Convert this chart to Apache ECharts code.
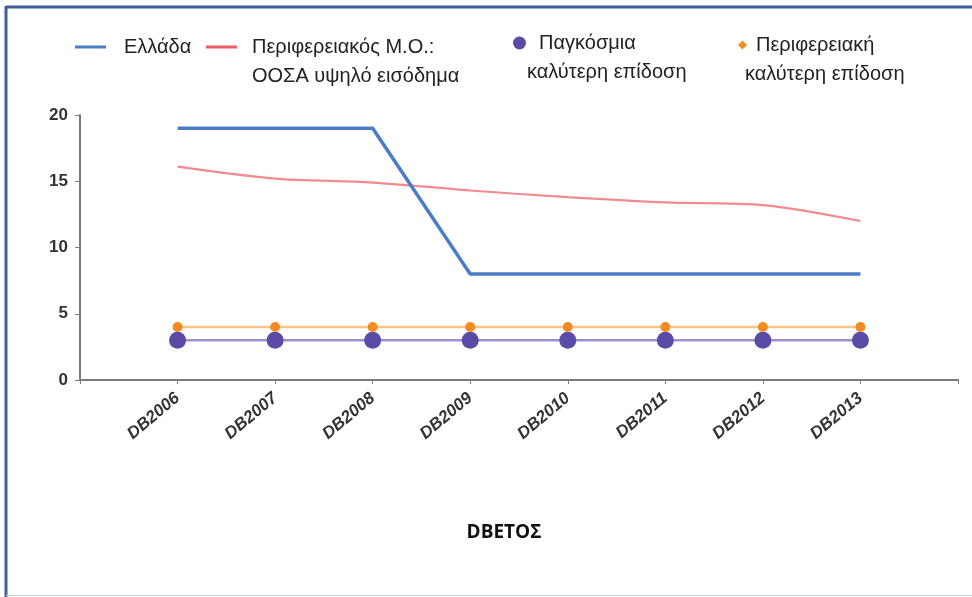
<!DOCTYPE html>
<html><head><meta charset="utf-8">
<script src="https://cdn.jsdelivr.net/npm/echarts@6/dist/echarts.min.js"></script>
<style>html,body{margin:0;padding:0;background:#fff}#c{width:972px;height:597px}</style>
</head><body><div id="c"></div>
<script>
const categories = ['DB2006','DB2007','DB2008','DB2009','DB2010','DB2011','DB2012','DB2013'];
const greece = [19,19,19,8,8,8,8,8];
const oecdAvg = [16.1,15.2,14.9,14.3,13.8,13.4,13.2,12.0];
const globalBest = [3,3,3,3,3,3,3,3];
const regionalBest = [4,4,4,4,4,4,4,4];
const yTicks = [0,5,10,15,20];
const names = ['Ελλάδα','Περιφερειακός Μ.Ο.:\nΟΟΣΑ υψηλό εισόδημα','Παγκόσμια\nκαλύτερη επίδοση','Περιφερειακή\nκαλύτερη επίδοση'];

const pad = arr => [null, ...arr, null];
const axisCats = ['', ...categories, ''];
const FONT = '"Liberation Sans", Arial, sans-serif';
const LFS = 20;

function legend(name, left, top, icon, w, h, firstPad, secondPad) {
  const parts = name.split('\n');
  return {
    data: [{name: name, icon: icon}],
    left: left, top: top, itemWidth: w, itemHeight: h, padding: 0,
    selectedMode: false,
    formatter: () => parts.length > 1 ? '{a|' + parts[0] + '}\n{b|' + parts[1] + '}' : '{a|' + parts[0] + '}',
    textStyle: {
      fontFamily: FONT, fontSize: LFS, color: '#222',
      padding: parts.length > 1 ? [29, 0, 0, 0] : [0, 0, 0, 0],
      rich: {
        a: {fontFamily: FONT, fontSize: LFS, color: '#222', lineHeight: 29, padding: [0,0,0,firstPad]},
        b: {fontFamily: FONT, fontSize: LFS, color: '#222', lineHeight: 29, padding: [0,0,0,secondPad]}
      }
    }
  };
}

const chart = echarts.init(document.getElementById('c'), null, {renderer: 'canvas'});
chart.setOption({
  animation: false,
  backgroundColor: '#fff',
  graphic: [
    {type: 'line', shape: {x1: 6, y1: 6, x2: 6, y2: 597}, style: {stroke: '#3d5f9a', lineWidth: 3}},
    {type: 'line', shape: {x1: 6, y1: 7, x2: 972, y2: 7}, style: {stroke: '#3d5f9a', lineWidth: 3}},
    {type: 'line', shape: {x1: 6, y1: 595.5, x2: 972, y2: 595.5}, style: {stroke: '#c8d0e0', lineWidth: 1}}
  ],
  legend: [
    legend(names[0], 75, 37, 'rect', 31, 3, 13, 0),
    legend(names[1], 206, 37, 'rect', 31, 3, 10, 10),
    legend(names[2], 513, 33, 'circle', 13, 13, 8, -4),
    legend(names[3], 738, 35, 'diamond', 9, 9, 4, -7)
  ],
  grid: {left: 80, right: 14, top: 115, bottom: 217, containLabel: false},
  xAxis: {
    type: 'category', data: axisCats, boundaryGap: false,
    name: 'DBETOΣ', nameLocation: 'middle', nameGap: 143,
    nameTextStyle: {fontFamily: '"Open Sans", ' + FONT, fontWeight: 'bold', fontSize: 19, color: '#111', padding: [0, 30, 0, 0]},
    axisLine: {lineStyle: {color: '#7a7a7a', width: 2}},
    axisTick: {show: true, length: 4, lineStyle: {color: '#7a7a7a'}},
    axisLabel: {rotate: 40, margin: 16, interval: 0, fontFamily: FONT, fontWeight: 'bold', fontStyle: 'italic', fontSize: 17, color: '#333'},
    splitLine: {show: false}
  },
  yAxis: {
    type: 'value', min: 0, max: 20, interval: 5,
    axisLine: {show: true, lineStyle: {color: '#7a7a7a', width: 2}},
    axisTick: {show: true, length: 5, lineStyle: {color: '#7a7a7a'}},
    axisLabel: {margin: 12, fontFamily: FONT, fontWeight: 'bold', fontSize: 17, color: '#333',
      formatter: v => yTicks.includes(v) ? String(v) : ''},
    splitLine: {show: false}
  },
  series: [
    {name: names[0], type: 'line', data: pad(greece), symbol: 'none',
      itemStyle: {color: '#4a7dc6'}, lineStyle: {color: '#4a7dc6', width: 3.5}, z: 4},
    {name: names[1], type: 'line', data: pad(oecdAvg), symbol: 'none', smooth: 0.3,
      itemStyle: {color: '#ee5a64'}, lineStyle: {color: '#f28a8f', width: 2.2}, z: 3},
    {name: names[2], type: 'line', data: pad(globalBest), symbol: 'circle', symbolSize: 17,
      itemStyle: {color: '#5b4aa6'}, lineStyle: {color: '#a08ed3', width: 2.5}, z: 2},
    {name: names[3], type: 'line', data: pad(regionalBest), symbol: 'circle', symbolSize: 10,
      itemStyle: {color: '#f28c22'}, lineStyle: {color: '#fbc58a', width: 2.5}, z: 2}
  ]
});
</script>
</body></html>
